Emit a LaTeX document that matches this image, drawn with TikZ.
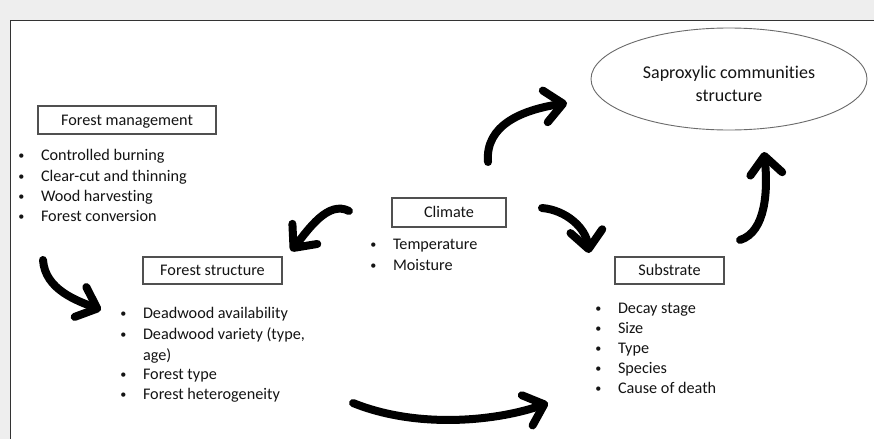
\documentclass[tikz,border=0pt]{standalone}
\usepackage{fontspec}
\setmainfont{Carlito}[Ligatures=NoCommon]
\usetikzlibrary{arrows.meta,shapes.geometric}
\definecolor{bgc}{HTML}{EEEEEE}
\definecolor{txt}{HTML}{141414}
\definecolor{boxc}{HTML}{505050}
\definecolor{ellc}{HTML}{6A6A6A}
\newcommand\bitem[3]{\node[blt] (#1) at (#2) {\llap{\raisebox{0.6pt}{\scalebox{0.75}{\textbullet}}\hspace{16.5pt}}#3};}
\begin{document}
\begin{tikzpicture}[x=1pt,y=-1pt,
  every node/.style={inner sep=0pt, outer sep=0pt, text=txt, font=\fontsize{16.2}{20}\selectfont},
  hdr/.style={draw=boxc, line width=1.1pt, text height=10.5pt, text depth=0pt},
  blt/.style={anchor=base west},
  brush/.style={line width=8pt, line cap=round, -{Straight Barb[length=18pt,width=32pt,round]}}
]
\useasboundingbox (0,0) rectangle (874,439);
\fill[bgc] (0,0) rectangle (874,439);
\fill[white] (10.5,20.5) rectangle (874,439);
\draw[color=black!80, line width=1.5pt] (874,20.5) -- (10.5,20.5) -- (10.5,439);

% header boxes
\node[hdr, minimum width=178pt, minimum height=28pt] (fm) at (127,120) {Forest management};
\node[hdr, minimum width=139pt, minimum height=27pt] (fs) at (212.5,270.5) {Forest structure};
\node[hdr, minimum width=114pt, minimum height=29pt] (cl) at (449,212.5) {Climate};
\node[hdr, minimum width=109pt, minimum height=27pt] (sub) at (669.5,270.5) {Substrate};

% ellipse
\node[ellipse, draw=ellc, line width=0.9pt, minimum width=276pt, minimum height=102pt] (sap) at (729,79) {};
\node[anchor=base, font=\fontsize{18}{22}\selectfont] (sap1) at (729,78) {Saproxylic communities};
\node[anchor=base, font=\fontsize{18}{22}\selectfont] (sap2) at (729,101) {structure};

% bullet lists
\bitem{fm1}{41,160}{Controlled burning}
\bitem{fm2}{41,181}{Clear-cut and thinning}
\bitem{fm3}{41,201}{Wood harvesting}
\bitem{fm4}{41,221}{Forest conversion}

\bitem{fs1}{143,318}{Deadwood availability}
\bitem{fs2}{143,339}{Deadwood variety (type,}
\node[blt] (fs2b) at (143,360) {age)};
\bitem{fs3}{143,379}{Forest type}
\bitem{fs4}{143,399}{Forest heterogeneity}

\bitem{cl1}{393,249}{Temperature}
\bitem{cl2}{393,270}{Moisture}

\bitem{sb1}{618,313}{Decay stage}
\bitem{sb2}{618,333}{Size}
\bitem{sb3}{618,353}{Type}
\bitem{sb4}{618,373}{Species}
\bitem{sb5}{618,393}{Cause of death}

% arrows
\coordinate (a1s) at (43,260);  \coordinate (a1e) at (101,310);
\coordinate (a2s) at (349,211); \coordinate (a2e) at (291,251);
\coordinate (a3s) at (488,162); \coordinate (a3e) at (567,103);
\coordinate (a4s) at (542,208); \coordinate (a4e) at (589,253);
\coordinate (a5s) at (740,240); \coordinate (a5e) at (764,152);
\coordinate (a6s) at (353,403); \coordinate (a6e) at (548,403);

\draw[brush] (a1s) .. controls (45,290) and (78,301) .. (a1e);
\draw[brush] (a2s) .. controls (328,200) and (308,230) .. (a2e);
\draw[brush] (a3s) .. controls (485,125) and (522,110) .. (a3e);
\draw[brush] (a4s) .. controls (566,210) and (586,228) .. (a4e);
\draw[brush] (a5s) .. controls (766,232) and (768,190) .. (a5e);
\draw[brush] (a6s) .. controls (420,430) and (500,420) .. (a6e);
\end{tikzpicture}
\end{document}
